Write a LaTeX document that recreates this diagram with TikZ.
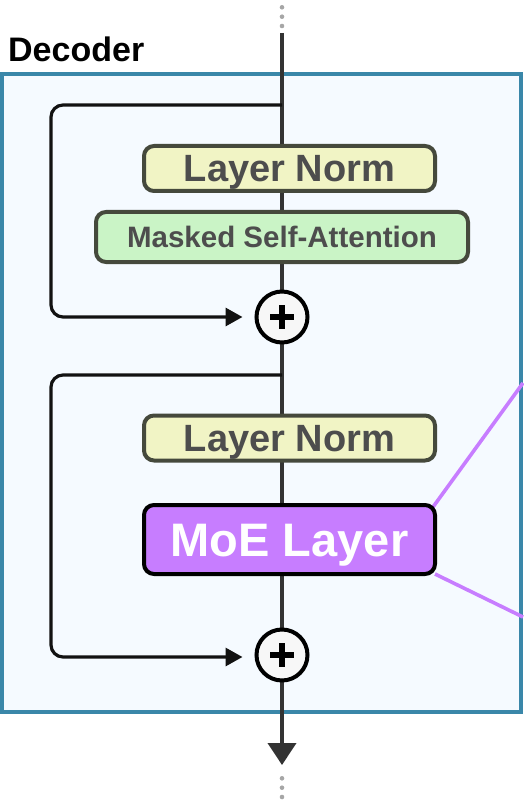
\documentclass[tikz,border=0pt]{standalone}
\usepackage{fontspec}
\setmainfont{Liberation Sans}
\usetikzlibrary{arrows.meta,calc}
\pgfdeclarelayer{back}
\pgfdeclarelayer{wires}
\pgfsetlayers{back,wires,main}

\definecolor{framecol}{HTML}{3A87A9}
\definecolor{framefill}{HTML}{F5FAFF}
\definecolor{normfill}{HTML}{F1F4C5}
\definecolor{attnfill}{HTML}{CAF4C6}
\definecolor{boxedge}{HTML}{45493C}
\definecolor{boxtext}{HTML}{4D4D4D}
\definecolor{moefill}{HTML}{C77DFF}
\definecolor{flow}{HTML}{333333}
\definecolor{dotgray}{HTML}{A6A6A6}
\definecolor{sumfill}{HTML}{F7F7F7}

\tikzset{
  x=1pt, y=-1pt,
  blockbox/.style={draw=boxedge, line width=4pt, rounded corners=10pt,
    text=boxtext, inner sep=0pt, text depth=0pt, align=center},
  normbox/.style={blockbox, fill=normfill, minimum width=291pt, minimum height=45pt,
    text height=26.9pt, font=\fontsize{38}{40}\selectfont\bfseries},
  attnbox/.style={blockbox, fill=attnfill, minimum width=372pt, minimum height=50pt,
    text height=21.1pt, font=\fontsize{29.5}{32}\selectfont\bfseries},
  moebox/.style={blockbox, draw=black, fill=moefill, text=white,
    minimum width=291pt, minimum height=69pt,
    text height=33.7pt, font=\fontsize{47}{50}\selectfont\bfseries},
  sumnode/.style={circle, draw=black, fill=sumfill, line width=4pt,
    minimum size=51pt, inner sep=0pt},
  flowline/.style={draw=flow, line width=4pt},
  skipline/.style={draw=black!93, line width=3.2pt, rounded corners=12pt,
    -{Triangle[length=17pt,width=18pt]}},
  expertline/.style={draw=moefill, line width=3.6pt},
  contdot/.style={circle, fill=dotgray, minimum size=4.6pt, inner sep=0pt},
}

\begin{document}
\begin{tikzpicture}
\useasboundingbox (0,0) rectangle (523,802);

% decoder frame
\begin{pgfonlayer}{back}
  \draw[draw=framecol, fill=framefill, line width=4pt] (2,74) rectangle (520.5,712);
\end{pgfonlayer}

\node[anchor=base west, inner sep=0pt, font=\fontsize{34}{36}\selectfont\bfseries] (title) at (8,62) {Decoder};

% continuation dots
\node[contdot] (dt1) at (282,7.3) {};
\node[contdot] (dt2) at (282,16.7) {};
\node[contdot] (dt3) at (282,26) {};
\node[contdot] (db1) at (282,778.3) {};
\node[contdot] (db2) at (282,787.7) {};
\node[contdot] (db3) at (282,797) {};

% blocks
\node[normbox] (ln1) at (289.5,168.5) {Layer Norm};
\node[attnbox] (msa) at (282,237) {Masked Self-Attention};
\node[sumnode] (p1) at (282,317) {};
\node[normbox] (ln2) at (289.5,438) {Layer Norm};
\node[moebox] (moe) at (289.5,539.5) {MoE Layer};
\node[sumnode] (p2) at (282,655) {};

% plus signs
\foreach \p in {p1,p2}{
  \draw[black, line width=5.5pt] ($(\p.center)+(-12,0)$) -- ($(\p.center)+(12,0)$);
  \draw[black, line width=5.5pt] ($(\p.center)+(0,-12)$) -- ($(\p.center)+(0,12)$);
}

\coordinate (top) at (282,33);
\coordinate (out) at (282,765);
\coordinate (br1) at (282,105);
\coordinate (br2) at (282,375);
\coordinate (eU) at (523,383);
\coordinate (eD) at (523,617);

\begin{pgfonlayer}{wires}
  % main residual stream
  \draw[flowline] (top) -- (p1.center);
  \draw[flowline] (p1.center) -- (p2.center);
  \draw[flowline, -{Triangle[length=22pt,width=28pt]}] (p2.center) -- (out);
  % residual skips
  \draw[skipline] (br1) -- (51,105) -- (51,317) -- ($(p1.west)+(-12,0)$);
  \draw[skipline] (br2) -- (51,375) -- (51,657) -- ($(p2.west)+(-12,2)$);
  % links towards the experts
  \draw[expertline] ($(moe.north east)+(-4,4)$) -- (eU);
  \draw[expertline] ($(moe.south east)+(-2,-2)$) -- (eD);
\end{pgfonlayer}
\end{tikzpicture}
\end{document}
